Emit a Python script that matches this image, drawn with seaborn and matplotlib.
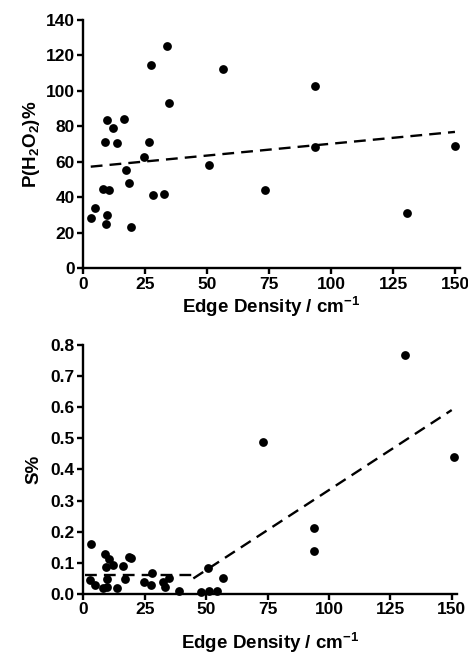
import numpy as np
import pandas as pd
import matplotlib
matplotlib.use("Agg")
import matplotlib.pyplot as plt
import seaborn as sns

# ── Datos ─────────────────────────────────────────────────────────────────────

# Panel superior: P(H2O2) % frente a densidad de bordes
ed_h2o2 = [3.0, 4.6, 9.4, 8.9, 7.8, 10.2, 9.4, 9.1, 12.1, 13.7, 16.4, 17.2,
           18.6, 19.4, 24.5, 26.4, 27.2, 28.0, 32.6, 33.6, 34.7, 50.9, 56.5,
           73.2, 93.6, 93.6, 130.5, 150.1]
p_h2o2 = [28.6, 33.8, 83.8, 71.2, 44.5, 44.2, 29.9, 24.8, 78.9, 70.5, 84.4,
          55.4, 48.3, 23.1, 62.6, 71.0, 114.6, 41.5, 42.1, 125.4, 93.2, 58.1,
          112.4, 44.0, 102.8, 68.4, 31.4, 69.2]

# Recta de ajuste (extremos leídos)
fit_h2o2_x = [3.0, 150.0]
fit_h2o2_y = [57.3, 76.9]

# Panel inferior: S % frente a densidad de bordes
ed_s = [3.1, 2.7, 4.6, 9.0, 10.3, 9.2, 11.9, 9.5, 7.9, 9.5, 13.6, 16.3, 17.1,
        18.7, 19.5, 24.7, 27.4, 28.0, 32.6, 35.0, 33.4, 38.8, 48.1, 50.8,
        51.3, 54.3, 56.7, 73.3, 93.9, 93.9, 131.1, 150.9]
s_pct = [0.160, 0.045, 0.029, 0.129, 0.114, 0.088, 0.092, 0.047, 0.018, 0.021,
         0.020, 0.090, 0.049, 0.120, 0.116, 0.037, 0.030, 0.067, 0.040, 0.050,
         0.021, 0.009, 0.006, 0.084, 0.009, 0.009, 0.050, 0.489, 0.213, 0.138,
         0.768, 0.441]

# Ajuste por tramos (horizontal + recta)
fit_s1_x = [0.5, 45.0]
fit_s1_y = [0.061, 0.061]
fit_s2_x = [44.8, 150.0]
fit_s2_y = [0.050, 0.591]

XLABEL = "Edge Density / cm$\\mathrm{^{-1}}$"

# ── Estilo ────────────────────────────────────────────────────────────────────
sns.set_theme(style="ticks")
plt.rcParams["font.family"] = ["Liberation Sans", "DejaVu Sans"]
plt.rcParams["font.weight"] = "bold"
plt.rcParams["text.color"] = "black"
plt.rcParams["axes.labelcolor"] = "black"
plt.rcParams["mathtext.fontset"] = "custom"
plt.rcParams["mathtext.rm"] = "Liberation Sans:bold"
plt.rcParams["mathtext.it"] = "Liberation Sans:bold"
plt.rcParams["mathtext.bf"] = "Liberation Sans:bold"


def estilo_ejes(ax, xlim, ylim, yticks, yfmt):
    ax.set_xlim(*xlim)
    ax.set_ylim(*ylim)
    ax.set_xticks([0, 25, 50, 75, 100, 125, 150])
    ax.set_yticks(yticks)
    ax.set_yticklabels([yfmt.format(v) for v in yticks])
    for side in ["top", "right"]:
        ax.spines[side].set_visible(False)
    for side in ["left", "bottom"]:
        ax.spines[side].set_linewidth(1.7)
        ax.spines[side].set_color("black")
    ax.tick_params(axis="both", direction="out", length=4, width=1.7,
                   labelsize=12.5, colors="black", labelcolor="black", pad=2)
    for lab in ax.get_xticklabels() + ax.get_yticklabels():
        lab.set_fontweight("bold")


fig = plt.figure(figsize=(4.68, 6.6), dpi=100)

# ── Panel superior ────────────────────────────────────────────────────────────
ax1 = fig.add_axes([0.178, 0.5935, 0.8047, 0.3762])
sns.scatterplot(x=ed_h2o2, y=p_h2o2, ax=ax1, color="black", s=40,
                edgecolor="black", linewidth=0, clip_on=False, zorder=3)
ax1.plot(fit_h2o2_x, fit_h2o2_y, color="black", lw=1.7,
         linestyle=(0, (5, 3)), zorder=2)
estilo_ejes(ax1, (0, 152), (0, 140), list(range(0, 141, 20)), "{:d}")
ax1.set_xlabel(XLABEL, fontsize=13.5, fontweight="bold", labelpad=2)
ax1.set_ylabel("P(H$\\mathrm{_2}$O$\\mathrm{_2}$)%", fontsize=13.5,
               fontweight="bold", labelpad=3)

# ── Panel inferior ────────────────────────────────────────────────────────────
ax2 = fig.add_axes([0.178, 0.1, 0.7977, 0.3773])
sns.scatterplot(x=ed_s, y=s_pct, ax=ax2, color="black", s=40,
                edgecolor="black", linewidth=0, clip_on=False, zorder=3)
ax2.plot(fit_s1_x, fit_s1_y, color="black", lw=1.7,
         linestyle=(0, (5, 3)), zorder=2)
ax2.plot(fit_s2_x, fit_s2_y, color="black", lw=1.7,
         linestyle=(0, (5, 3)), zorder=2)
estilo_ejes(ax2, (0, 152), (0, 0.8), [round(0.1 * i, 1) for i in range(9)],
            "{:.1f}")
ax2.set_xlabel(XLABEL, fontsize=13.5, fontweight="bold", labelpad=10)
ax2.set_ylabel("S%", fontsize=13.5, fontweight="bold", labelpad=6)

fig.savefig("out.png", dpi=100)
